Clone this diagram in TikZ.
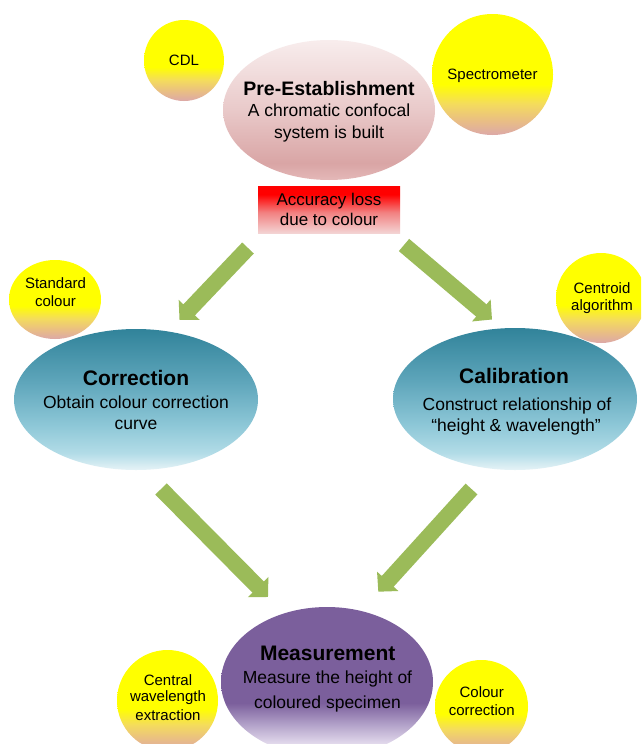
\documentclass[tikz,border=0pt]{standalone}
\usepackage{fontspec}
\setmainfont{Liberation Sans}
\usetikzlibrary{shapes.geometric,arrows.meta}
\definecolor{yelT}{HTML}{FFFF00}
\definecolor{yelD}{HTML}{F4DC5C}
\definecolor{yelC}{HTML}{E9BE84}
\definecolor{yelB}{HTML}{DCA8A8}
\definecolor{preT}{HTML}{F8EDED}
\definecolor{preM}{HTML}{E9C9C9}
\definecolor{preB}{HTML}{D9A5A5}
\definecolor{preL}{HTML}{E4B8B8}
\definecolor{accT}{HTML}{FF0000}
\definecolor{accM}{HTML}{F28080}
\definecolor{accB}{HTML}{F3D3D3}
\definecolor{tealT}{HTML}{31839A}
\definecolor{tealM}{HTML}{5FA6BB}
\definecolor{tealN}{HTML}{8DC7D7}
\definecolor{tealL}{HTML}{B2DCE7}
\definecolor{tealB}{HTML}{E6F3F7}
\definecolor{purT}{HTML}{7B5F9C}
\definecolor{purM}{HTML}{B1A0C8}
\definecolor{purL}{HTML}{E6DEEF}
\definecolor{purB}{HTML}{F5F1F9}
\definecolor{arrowgreen}{HTML}{9BBB59}
\pgfdeclareverticalshading{yelshade}{100bp}{color(0bp)=(yelB); color(25bp)=(yelB); color(31bp)=(yelC); color(38bp)=(yelD); color(46bp)=(yelT); color(100bp)=(yelT)}
\pgfdeclareverticalshading{preshade}{100bp}{color(0bp)=(preL); color(25bp)=(preL); color(31bp)=(preB); color(50bp)=(preM); color(75bp)=(preT); color(100bp)=(preT)}
\pgfdeclareverticalshading{accshade}{100bp}{color(0bp)=(accB); color(25bp)=(accB); color(47bp)=(accM); color(66bp)=(accT); color(100bp)=(accT)}
\pgfdeclareverticalshading{tealshade}{100bp}{color(0bp)=(tealB); color(25bp)=(tealB); color(31bp)=(tealL); color(41bp)=(tealN); color(56bp)=(tealM); color(75bp)=(tealT); color(100bp)=(tealT)}
\pgfdeclareverticalshading{purshade}{100bp}{color(0bp)=(purB); color(25bp)=(purB); color(29bp)=(purL); color(36bp)=(purM); color(43bp)=(purT); color(100bp)=(purT)}
\tikzset{
  blob/.style={ellipse, draw=none, inner sep=0pt, outer sep=0pt},
  ybub/.style={blob, shading=yelshade},
  lbl/.style={anchor=base, inner sep=0pt, outer sep=0pt, text=black},
  ttl/.style={lbl, font=\fontsize{21}{25}\selectfont\bfseries},
  bod/.style={lbl, font=\fontsize{17.5}{21}\selectfont},
  ysm/.style={lbl, font=\fontsize{15}{18}\selectfont},
  flow/.style={line width=16pt, draw=arrowgreen, fill=arrowgreen,
    -{Triangle[width=28pt,length=14pt]}},
}
\begin{document}
\begin{tikzpicture}[x=1pt,y=-1pt]
\clip (0,0) rectangle (641,744);
\fill[white] (0,0) rectangle (641,744);

% --- top
\node[ybub, minimum width=80pt, minimum height=81pt] (cdl) at (184,60.5) {};
\node[blob, shading=preshade, minimum width=212pt, minimum height=140pt] (pre) at (329,110) {};
\node[ybub, minimum width=121pt, minimum height=121pt] (spec) at (492.5,74.5) {};
\node[rectangle, inner sep=0pt, shading=accshade, minimum width=142pt, minimum height=47pt] (acc) at (329,209.5) {};

\node[ysm] (cdlT) at (184,65) {CDL};
\node[ysm] (specT) at (492.5,79) {Spectrometer};
\node[lbl, font=\fontsize{19.5}{23}\selectfont\bfseries] (preT1) at (329,95) {Pre-Establishment};
\node[bod] (preT2) at (329,116.7) {A chromatic confocal};
\node[bod] (preT3) at (329,138.3) {system is built};
\node[lbl, font=\fontsize{17}{20}\selectfont] (accT1) at (329,205) {Accuracy loss};
\node[lbl, font=\fontsize{17}{20}\selectfont] (accT2) at (329,225) {due to colour};

% --- middle
\node[ybub, minimum width=92pt, minimum height=79pt] (std) at (55,299.5) {};
\node[ybub, minimum width=90pt, minimum height=90pt] (cen) at (601,298) {};
\node[blob, shading=tealshade, minimum width=244pt, minimum height=141pt] (cor) at (136,399.5) {};
\node[blob, shading=tealshade, minimum width=244pt, minimum height=142pt] (cal) at (515,399) {};

\node[ysm] (stdT1) at (55.5,288.3) {Standard};
\node[ysm] (stdT2) at (55.5,306.7) {colour};
\node[ysm] (cenT1) at (602,293.3) {Centroid};
\node[ysm] (cenT2) at (602,310) {algorithm};
\node[ttl] (corT1) at (136,385.7) {Correction};
\node[bod] (corT2) at (136,408) {Obtain colour correction};
\node[bod] (corT3) at (136,429) {curve};
\node[ttl] (calT1) at (514,383.3) {Calibration};
\node[bod] (calT2) at (517,410.7) {Construct relationship of};
\node[bod] (calT3) at (516,431.7) {“height \& wavelength”};

% --- bottom
\node[ybub, minimum width=101pt, minimum height=101pt] (cwe) at (167.5,700.5) {};
\node[ybub, minimum width=93pt, minimum height=93pt] (cc) at (481.5,706.5) {};
\node[blob, shading=purshade, minimum width=212pt, minimum height=150pt] (mea) at (327,682) {};

\node[ttl] (meaT1) at (327.7,660) {Measurement};
\node[bod] (meaT2) at (327.5,683.3) {Measure the height of};
\node[bod] (meaT3) at (327.5,708.3) {coloured specimen};
\node[ysm] (cweT1) at (168,685) {Central};
\node[ysm] (cweT2) at (168,701.7) {wavelength};
\node[ysm] (cweT3) at (168,720) {extraction};
\node[ysm] (ccT1) at (481.7,697.3) {Colour};
\node[ysm] (ccT2) at (481.7,715) {correction};

% --- arrows
\coordinate (a1s) at (248,248);
\coordinate (a1e) at (179.5,320);
\coordinate (a2s) at (404,245);
\coordinate (a2e) at (492,319.5);
\coordinate (a3s) at (161,489);
\coordinate (a3e) at (268,597);
\coordinate (a4s) at (471.5,489);
\coordinate (a4e) at (378.3,591.7);
\draw[flow] (a1s) -- (a1e);
\draw[flow] (a2s) -- (a2e);
\draw[flow] (a3s) -- (a3e);
\draw[flow] (a4s) -- (a4e);
\end{tikzpicture}
\end{document}
